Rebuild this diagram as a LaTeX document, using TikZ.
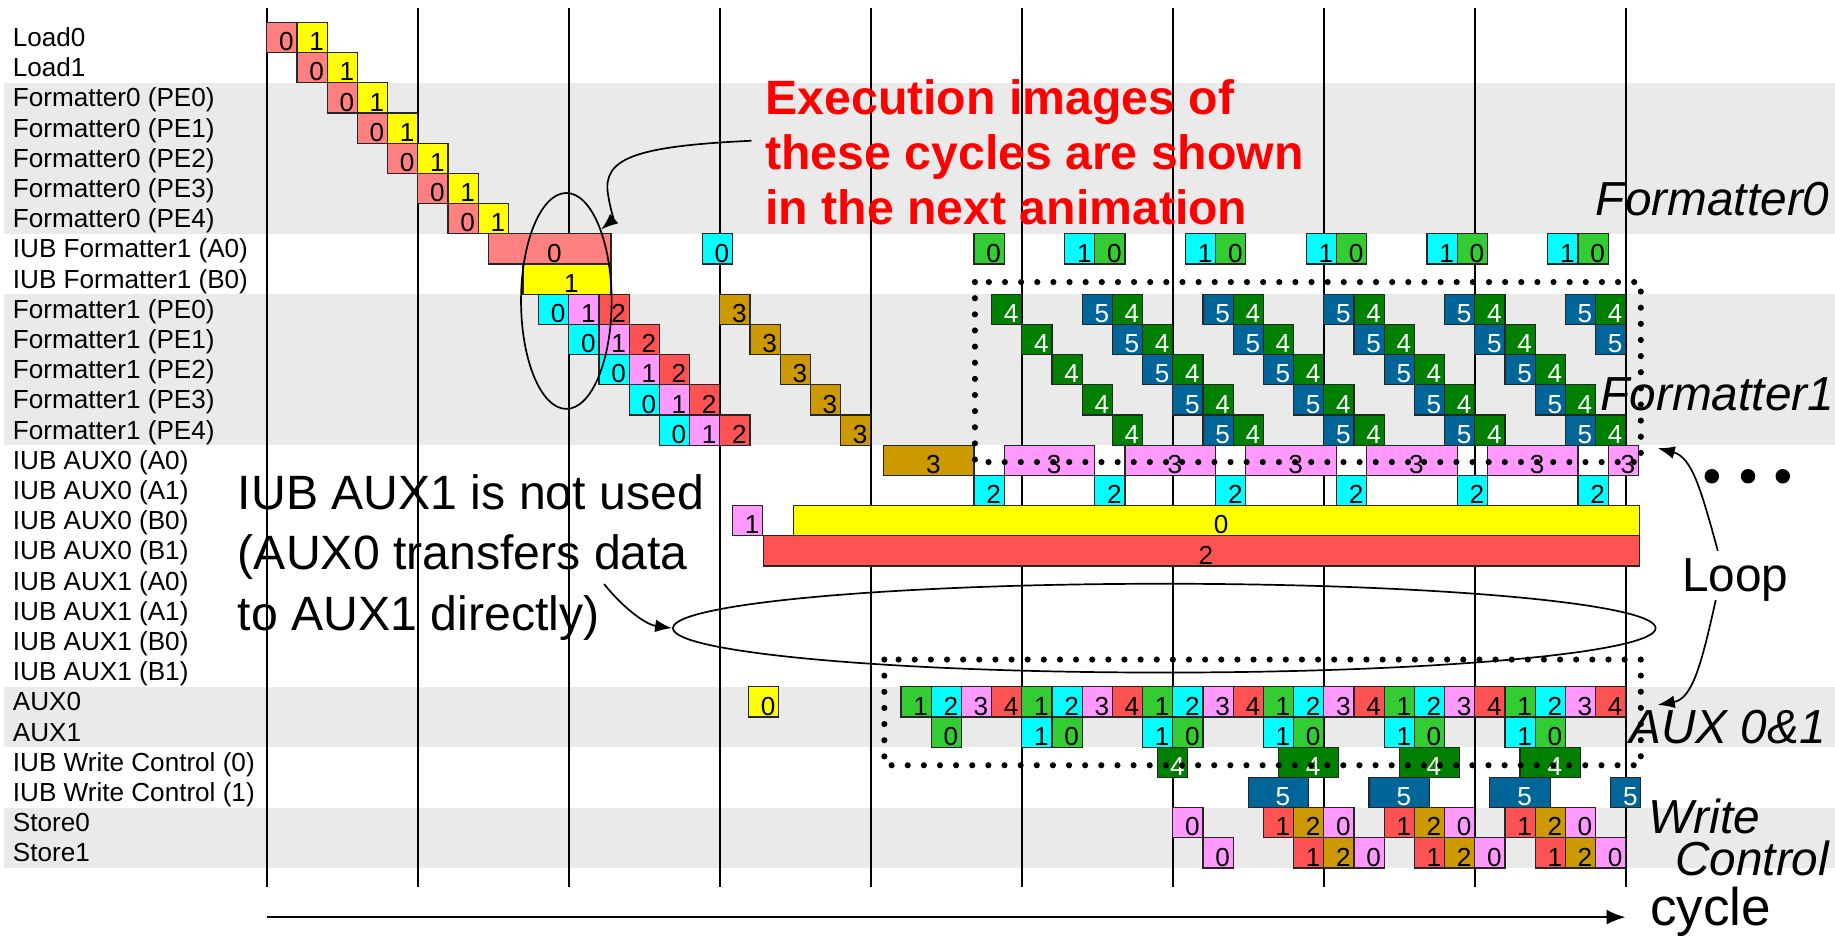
\documentclass[tikz,border=0pt]{standalone}
\usepackage{fontspec}
\setmainfont{Liberation Sans}
\usetikzlibrary{arrows.meta,shapes.geometric}

\definecolor{bandgray}{RGB}{234,234,234}
\definecolor{fsalmon}{RGB}{255,128,128}
\definecolor{fyellow}{RGB}{255,255,0}
\definecolor{fcyan}{RGB}{0,255,255}
\definecolor{fpink}{RGB}{255,153,255}
\definecolor{fred}{RGB}{255,82,82}
\definecolor{fgold}{RGB}{204,153,0}
\definecolor{flgreen}{RGB}{51,204,51}
\definecolor{fdgreen}{RGB}{0,128,0}
\definecolor{fblue}{RGB}{0,102,153}

\newcount\cellno
% \cell[text colour]{from}{to}{row}{fill}{text}
\newcommand{\cell}[6][black]{%
  \global\advance\cellno by 1
  \draw[cellbox, fill=#5] (#2,{-#4+0.5}) rectangle (#3,{-#4-0.5});
  \node[celltext, text=#1] (cell\the\cellno) at ({(#2+#3)/2+0.15},{-#4-0.44}) {#6};
}

\begin{document}
\begin{tikzpicture}[x=0.5cm,y=0.5cm,
  cellbox/.style={draw=black!85, line width=0.6pt},
  celltext/.style={anchor=base, inner sep=0pt, font=\fontsize{12.3}{14}\selectfont},
  rowlabel/.style={anchor=base west, inner sep=0pt, font=\fontsize{12.3}{14}\selectfont},
  cycleline/.style={line width=0.9pt},
  dotbox/.style={line width=2.9pt, dash pattern=on 0pt off 7.6pt, line cap=round},
  ring/.style={draw, ellipse, line width=0.8pt, inner sep=0pt},
  callout/.style={line width=0.8pt, -{Latex[length=8pt,width=6pt]}},
  tag/.style={anchor=base west, inner sep=0pt, font=\fontsize{22.5}{26}\selectfont\itshape},
]

	\useasboundingbox (-8.834,1.24) rectangle (51.93,-29.85);

	% gray bands
	\fill[bandgray] (-8.7,-1.5) rectangle (51.93,-6.5);
	\fill[bandgray] (-8.7,-8.5) rectangle (51.93,-13.5);
	\fill[bandgray] (-8.7,-21.5) rectangle (51.93,-23.5);
	\fill[bandgray] (-8.7,-25.5) rectangle (51.93,-27.5);

	% row labels
	\foreach \lbl [count=\r from 0] in {{Load0},{Load1},
		{Formatter0 (PE0)},{Formatter0 (PE1)},{Formatter0 (PE2)},{Formatter0 (PE3)},{Formatter0 (PE4)},
		{IUB Formatter1 (A0)},{IUB Formatter1 (B0)},
		{Formatter1 (PE0)},{Formatter1 (PE1)},{Formatter1 (PE2)},{Formatter1 (PE3)},{Formatter1 (PE4)},
		{IUB AUX0 (A0)},{IUB AUX0 (A1)},{IUB AUX0 (B0)},{IUB AUX0 (B1)},
		{IUB AUX1 (A0)},{IUB AUX1 (A1)},{IUB AUX1 (B0)},{IUB AUX1 (B1)},
		{AUX0},{AUX1},{IUB Write Control (0)},{IUB Write Control (1)},{Store0},{Store1}}
		\node[rowlabel] (row\r) at (-8.42,{-\r-0.3}) {\lbl};

	% cycle lines
	\foreach \k in {0,...,9}
		\draw[cycleline] (5*\k,0.965) -- (5*\k,-28.13);

	% load / formatter0
	\foreach \r in {0,...,6} {
		\cell{\r}{\r+1}{\r}{fsalmon}{0}
		\cell{\r+1}{\r+2}{\r}{fyellow}{1}
	}

	% IUB formatter1
	\cell{7.35}{11.4}{7}{fsalmon}{0}
	\cell{8.48}{11.4}{8}{fyellow}{1}
	\cell{14.42}{15.42}{7}{fcyan}{0}
	\cell{23.42}{24.42}{7}{flgreen}{0}
	\foreach \j in {0,...,4} {
		\pgfmathsetmacro\a{26.42+4*\j}
		\cell{\a}{\a+1}{7}{fcyan}{1}
		\cell{\a+1}{\a+2}{7}{flgreen}{0}
	}

	% formatter1
	\foreach \k in {0,...,4} {
		\pgfmathtruncatemacro\r{9+\k}
		\cell{9+\k}{10+\k}{\r}{fcyan}{0}
		\cell{10+\k}{11+\k}{\r}{fpink}{1}
		\cell{11+\k}{12+\k}{\r}{fred}{2}
		\cell{15+\k}{16+\k}{\r}{fgold}{3}
		\cell[white]{24+\k}{25+\k}{\r}{fdgreen}{4}
		\foreach \j in {0,...,4} {
			\pgfmathtruncatemacro\a{27+\k+4*\j}
			\ifnum\a<45 \cell[white]{\a}{\a+1}{\r}{fblue}{5}\fi
			\ifnum\a<44 \cell[white]{\a+1}{\a+2}{\r}{fdgreen}{4}\fi
		}
	}

	% IUB aux0
	\cell{20.42}{23.42}{14}{fgold}{3}
	\foreach \j in {0,...,4} {
		\pgfmathsetmacro\a{24.42+4*\j}
		\cell{\a}{\a+3}{14}{fpink}{3}
	}
	\cell{44.42}{45.42}{14}{fpink}{3}
	\foreach \j in {0,...,5} {
		\pgfmathsetmacro\a{23.42+4*\j}
		\cell{\a}{\a+1}{15}{fcyan}{2}
	}
	\cell{15.42}{16.42}{16}{fpink}{1}
	\cell{17.45}{45.45}{16}{fyellow}{0}
	\cell{16.45}{45.45}{17}{fred}{2}

	% aux0 / aux1
	\cell{15.95}{16.95}{22}{fyellow}{0}
	\foreach \j in {0,...,5} {
		\pgfmathtruncatemacro\a{21+4*\j}
		\cell{\a}{\a+1}{22}{flgreen}{1}
		\cell{\a+1}{\a+2}{22}{fcyan}{2}
		\cell{\a+2}{\a+3}{22}{fpink}{3}
		\cell{\a+3}{\a+4}{22}{fred}{4}
	}
	\cell{22}{23}{23}{flgreen}{0}
	\foreach \j in {0,...,4} {
		\pgfmathtruncatemacro\a{25+4*\j}
		\cell{\a}{\a+1}{23}{fcyan}{1}
		\cell{\a+1}{\a+2}{23}{flgreen}{0}
	}

	% write control
	\cell[white]{29.5}{30.5}{24}{fdgreen}{4}
	\foreach \j in {0,1,2} {
		\pgfmathsetmacro\a{33.5+4*\j}
		\cell[white]{\a}{\a+2}{24}{fdgreen}{4}
		\pgfmathsetmacro\b{32.5+4*\j}
		\cell[white]{\b}{\b+2}{25}{fblue}{5}
	}
	\cell[white]{44.5}{45.5}{25}{fblue}{5}

	% store
	\cell{30}{31}{26}{fpink}{0}
	\cell{31}{32}{27}{fpink}{0}
	\foreach \j in {0,1,2} {
		\pgfmathtruncatemacro\a{33+4*\j}
		\cell{\a}{\a+1}{26}{fred}{1}
		\cell{\a+1}{\a+2}{26}{fgold}{2}
		\cell{\a+2}{\a+3}{26}{fpink}{0}
		\cell{\a+1}{\a+2}{27}{fred}{1}
		\cell{\a+2}{\a+3}{27}{fgold}{2}
		\cell{\a+3}{\a+4}{27}{fpink}{0}
	}

	% loop boxes
	\draw[dotbox] (23.45,-8.1) rectangle (45.5,-14.06);
	\draw[dotbox] (20.45,-20.6) rectangle (45.5,-24.1);

	% rings
	\node[ring, minimum width=1.5cm, minimum height=3.575cm] (circ) at (9.92,-8.725) {};
	\node[ring, minimum width=16.27cm, minimum height=1.47cm] (band) at (29.72,-19.56) {};

	% notes
	\node[anchor=north west, inner sep=0pt, align=left, text=red,
		font=\fontsize{22.7}{25.9}\selectfont\bfseries] (note) at (16.5,-1.37)
		{Execution images of\\these cycles are shown\\in the next animation};
	\node[anchor=north west, inner sep=0pt, align=left,
		font=\fontsize{22.7}{28.5}\selectfont] (aux1note) at (-0.97,-14.45)
		{IUB AUX1 is not used\\(AUX0 transfers data\\to AUX1 directly)};

	% side tags
	\node[tag] (tagF0) at (44.0,-5.88) {Formatter0};
	\node[tag] (tagF1) at (44.15,-12.34) {Formatter1};
	\node[tag] (tagAux) at (45.1,-23.37) {AUX 0\&1};
	\node[tag, anchor=north west, align=left, font=\fontsize{22.5}{20}\selectfont\itshape]
		(tagWc) at (45.75,-25.2) {Write\\\hspace*{12.4pt}Control};
	\node[anchor=base west, inner sep=0pt, font=\fontsize{22.5}{26}\selectfont] (loop) at (46.85,-18.35) {Loop};
	\foreach \x in {47.85,49.05,50.2}
		\fill (\x,-14.53) circle (0.24);

	% arrows
	\coordinate (notefrom) at (16.05,-3.42);
	\draw[callout] (notefrom) .. controls (12.2,-3.6) and (11.1,-4.0) .. (11.3,-5.2)
		.. controls (11.4,-5.8) and (11.5,-6.0) .. (circ.64);
	\coordinate (aux1from) at (11.17,-18.1);
	\draw[callout] (aux1from) .. controls (11.9,-19.0) and (12.6,-19.45) .. (band.west);
	\coordinate (looptop) at (48.05,-17.0);
	\coordinate (loopbot) at (47.98,-18.63);
	\coordinate (f1corner) at (46.06,-13.6);
	\coordinate (auxcorner) at (46.06,-22.1);
	\draw[callout] (looptop) .. controls (47.5,-15.0) and (47.2,-13.9) .. (f1corner);
	\draw[callout] (loopbot) .. controls (47.5,-20.8) and (47.2,-21.9) .. (auxcorner);

	% cycle axis
	\coordinate (t0) at (0,-29.13);
	\coordinate (t1) at (45,-29.13);
	\draw[line width=1.2pt, -{Latex[length=9pt,width=7pt]}] (t0) -- (t1);
	\node[anchor=base west, inner sep=0pt, font=\fontsize{25}{29}\selectfont] (cyclelbl) at (45.8,-29.42) {cycle};

\end{tikzpicture}
\end{document}
